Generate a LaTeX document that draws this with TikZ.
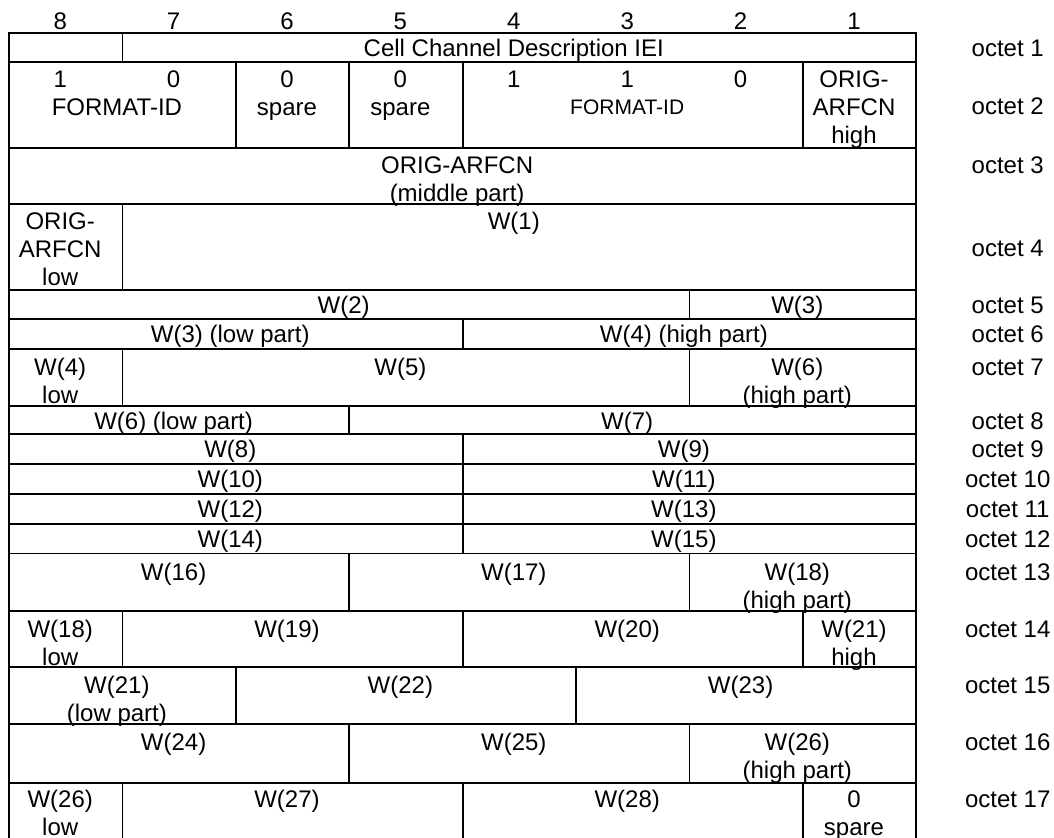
\documentclass[tikz,border=0pt]{standalone}
\usepackage{fontspec}
\setmainfont{Liberation Sans}
\begin{document}
\begin{tikzpicture}[x=0.5pt,y=-0.5pt,
  grid/.style={draw=black,line width=0.9pt},
  txt/.style={anchor=base,align=center,inner sep=0pt,font=\fontsize{12pt}{14pt}\selectfont},
  smalltxt/.style={anchor=base,align=center,inner sep=0pt,font=\fontsize{10.5pt}{12.6pt}\selectfont},
  octlbl/.style={anchor=base,inner sep=0pt,font=\fontsize{12pt}{14pt}\selectfont}]
\useasboundingbox (0,0) rectangle (1054,837);
\clip (0,0) rectangle (1054,837);
% header bit numbers
\node[txt] (b8) at (60.2,29.3) {8};
\node[txt] (b7) at (173.6,29.3) {7};
\node[txt] (b6) at (287,29.3) {6};
\node[txt] (b5) at (400.4,29.3) {5};
\node[txt] (b4) at (513.8,29.3) {4};
\node[txt] (b3) at (627.2,29.3) {3};
\node[txt] (b2) at (740.6,29.3) {2};
\node[txt] (b1) at (854,29.3) {1};
% octet 1
\draw[grid] (9,33.3) rectangle (122.4,62.3);
\draw[grid] (122.4,33.3) rectangle (916.2,62.3);
\node[txt] (iei) at (513.8,56.8) {Cell Channel Description IEI};
% octet 2
\draw[grid] (9,62.3) rectangle (235.8,148);
\draw[grid] (235.8,62.3) rectangle (349.2,148);
\draw[grid] (349.2,62.3) rectangle (462.6,148);
\draw[grid] (462.6,62.3) rectangle (802.8,148);
\draw[grid] (802.8,62.3) rectangle (916.2,148);
\node[txt] (f8) at (60.2,87.3) {1};
\node[txt] (f7) at (173.6,87.3) {0};
\node[txt] (fmta) at (116.9,115.3) {FORMAT-ID};
\node[txt] (sp6) at (287,115.3) {0\\spare};
\node[txt] (sp5) at (400.4,115.3) {0\\spare};
\node[txt] (f4) at (513.8,87.3) {1};
\node[txt] (f3) at (627.2,87.3) {1};
\node[txt] (f2) at (740.6,87.3) {0};
\node[smalltxt] (fmtb) at (627.2,114.8) {FORMAT-ID};
\node[txt] (oah) at (854,143.3) {ORIG-\\ARFCN\\high};
% octet 3
\draw[grid] (9,148) rectangle (916.2,204.3);
\node[txt] (oam) at (457.1,201.5) {ORIG-ARFCN\\(middle part)};
% octet 4
\draw[grid] (9,204.3) rectangle (122.4,290);
\draw[grid] (122.4,204.3) rectangle (916.2,290);
\node[txt] (oal) at (60.2,285.3) {ORIG-\\ARFCN\\low};
\node[txt] (w1) at (513.8,229.3) {W(1)};
% octet 5
\draw[grid] (9,290) rectangle (689.4,319);
\draw[grid] (689.4,290) rectangle (916.2,319);
\node[txt] (w2) at (343.7,313.5) {W(2)};
\node[txt] (w3) at (797.3,313.5) {W(3)};
% octet 6
\draw[grid] (9,319) rectangle (462.6,349);
\draw[grid] (462.6,319) rectangle (916.2,349);
\node[txt] (w3l) at (230.3,342.5) {W(3) (low part)};
\node[txt] (w4h) at (683.9,342.5) {W(4) (high part)};
% octet 7
\draw[grid] (9,349) rectangle (122.4,406);
\draw[grid] (122.4,349) rectangle (689.4,406);
\draw[grid] (689.4,349) rectangle (916.2,406);
\node[txt] (w4l) at (60.2,403.5) {W(4)\\low};
\node[txt] (w5) at (400.4,375.5) {W(5)};
\node[txt] (w6h) at (797.3,403.5) {W(6)\\(high part)};
% octet 8
\draw[grid] (9,406) rectangle (349.2,434.3);
\draw[grid] (349.2,406) rectangle (916.2,434.3);
\node[txt] (w6l) at (173.6,429.5) {W(6) (low part)};
\node[txt] (w7) at (627.2,429.5) {W(7)};
% octets 9-12
\draw[grid] (9,434.3) rectangle (462.6,464.3);
\draw[grid] (462.6,434.3) rectangle (916.2,464.3);
\node[txt] (w8) at (230.3,457.8) {W(8)};
\node[txt] (w9) at (683.9,457.8) {W(9)};
\draw[grid] (9,464.3) rectangle (462.6,494.3);
\draw[grid] (462.6,464.3) rectangle (916.2,494.3);
\node[txt] (w10) at (230.3,487.8) {W(10)};
\node[txt] (w11) at (683.9,487.8) {W(11)};
\draw[grid] (9,494.3) rectangle (462.6,524.3);
\draw[grid] (462.6,494.3) rectangle (916.2,524.3);
\node[txt] (w12) at (230.3,517.8) {W(12)};
\node[txt] (w13) at (683.9,517.8) {W(13)};
\draw[grid] (9,524.3) rectangle (462.6,553.5);
\draw[grid] (462.6,524.3) rectangle (916.2,553.5);
\node[txt] (w14) at (230.3,547.3) {W(14)};
\node[txt] (w15) at (683.9,547.3) {W(15)};
% octet 13
\draw[grid] (9,553.5) rectangle (349.2,611);
\draw[grid] (349.2,553.5) rectangle (689.4,611);
\draw[grid] (689.4,553.5) rectangle (916.2,611);
\node[txt] (w16) at (173.6,580) {W(16)};
\node[txt] (w17) at (513.8,580) {W(17)};
\node[txt] (w18h) at (797.3,608) {W(18)\\(high part)};
% octet 14
\draw[grid] (9,611) rectangle (122.4,667.3);
\draw[grid] (122.4,611) rectangle (462.6,667.3);
\draw[grid] (462.6,611) rectangle (802.8,667.3);
\draw[grid] (802.8,611) rectangle (916.2,667.3);
\node[txt] (w18l) at (60.2,665.5) {W(18)\\low};
\node[txt] (w19) at (287,637.5) {W(19)};
\node[txt] (w20) at (627.2,637.5) {W(20)};
\node[txt] (w21h) at (854,665.5) {W(21)\\high};
% octet 15
\draw[grid] (9,667.3) rectangle (235.8,724);
\draw[grid] (235.8,667.3) rectangle (576,724);
\draw[grid] (576,667.3) rectangle (916.2,724);
\node[txt] (w21l) at (116.9,721.8) {W(21)\\(low part)};
\node[txt] (w22) at (400.4,693.8) {W(22)};
\node[txt] (w23) at (740.6,693.8) {W(23)};
% octet 16
\draw[grid] (9,724) rectangle (349.2,782.7);
\draw[grid] (349.2,724) rectangle (689.4,782.7);
\draw[grid] (689.4,724) rectangle (916.2,782.7);
\node[txt] (w24) at (173.6,750.5) {W(24)};
\node[txt] (w25) at (513.8,750.5) {W(25)};
\node[txt] (w26h) at (797.3,778.5) {W(26)\\(high part)};
% octet 17 (bottom border lies below the visible area)
\draw[grid] (9,782.7) rectangle (122.4,842);
\draw[grid] (122.4,782.7) rectangle (462.6,842);
\draw[grid] (462.6,782.7) rectangle (802.8,842);
\draw[grid] (802.8,782.7) rectangle (916.2,842);
\node[txt] (w26l) at (60.2,835.5) {W(26)\\low};
\node[txt] (w27) at (287,807.5) {W(27)};
\node[txt] (w28) at (627.2,807.5) {W(28)};
\node[txt] (sp1) at (854,835.5) {0\\spare};
% octet labels
\node[octlbl] (o1) at (1007.7,56.8) {octet 1};
\node[octlbl] (o2) at (1007.7,114.5) {octet 2};
\node[octlbl] (o3) at (1007.7,173.5) {octet 3};
\node[octlbl] (o4) at (1007.7,256) {octet 4};
\node[octlbl] (o5) at (1007.7,313.5) {octet 5};
\node[octlbl] (o6) at (1007.7,342.5) {octet 6};
\node[octlbl] (o7) at (1007.7,375.5) {octet 7};
\node[octlbl] (o8) at (1007.7,429.5) {octet 8};
\node[octlbl] (o9) at (1007.7,457.8) {octet 9};
\node[octlbl] (o10) at (1007.7,487.8) {octet 10};
\node[octlbl] (o11) at (1007.7,517.8) {octet 11};
\node[octlbl] (o12) at (1007.7,547.3) {octet 12};
\node[octlbl] (o13) at (1007.7,580) {octet 13};
\node[octlbl] (o14) at (1007.7,637.5) {octet 14};
\node[octlbl] (o15) at (1007.7,693.8) {octet 15};
\node[octlbl] (o16) at (1007.7,750.5) {octet 16};
\node[octlbl] (o17) at (1007.7,807.5) {octet 17};
\end{tikzpicture}
\end{document}
